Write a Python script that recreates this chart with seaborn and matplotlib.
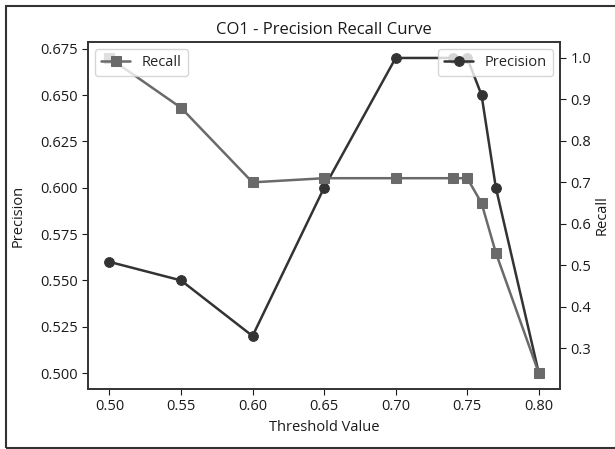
import matplotlib
matplotlib.use("Agg")
import matplotlib.pyplot as plt
import seaborn as sns
import pandas as pd
from matplotlib.patches import Rectangle

thresholds = [0.50, 0.55, 0.60, 0.65, 0.70, 0.74, 0.75, 0.76, 0.77, 0.80]
precision = [0.56, 0.55, 0.52, 0.60, 0.67, 0.67, 0.67, 0.65, 0.60, 0.50]
recall = [1.00, 0.88, 0.70, 0.71, 0.71, 0.71, 0.71, 0.65, 0.53, 0.24]

df = pd.DataFrame({"threshold": thresholds, "precision": precision, "recall": recall})

sns.set_style("ticks")
plt.rcParams['font.family'] = ['Open Sans', 'DejaVu Sans']

fig = plt.figure(figsize=(6.15, 4.49), dpi=100)
ax = fig.add_axes([0.143, 0.134, 0.768, 0.772])
ax2 = ax.twinx()

sns.lineplot(data=df, x="threshold", y="precision", ax=ax, color="#333333",
             marker="o", markersize=7, markeredgecolor="#333333", linewidth=1.8,
             label="Precision")
sns.lineplot(data=df, x="threshold", y="recall", ax=ax2, color="#6a6a6a",
             marker="s", markersize=7, markeredgecolor="#6a6a6a", linewidth=1.8,
             label="Recall")

ax.set_xticks([0.50, 0.55, 0.60, 0.65, 0.70, 0.75, 0.80])
ax.set_xticklabels(["0.50", "0.55", "0.60", "0.65", "0.70", "0.75", "0.80"])
ax.set_yticks([0.500, 0.525, 0.550, 0.575, 0.600, 0.625, 0.650, 0.675])
ax.set_yticklabels([f"{v:.3f}" for v in [0.500, 0.525, 0.550, 0.575, 0.600, 0.625, 0.650, 0.675]])
ax2.set_yticks([0.3, 0.4, 0.5, 0.6, 0.7, 0.8, 0.9, 1.0])
ax2.set_yticklabels(["0.3", "0.4", "0.5", "0.6", "0.7", "0.8", "0.9", "1.0"])

for a in (ax, ax2):
    a.tick_params(labelsize=10.5, colors="#1a1a1a", length=4)
    for s in a.spines.values():
        s.set_color("#333333")
        s.set_linewidth(1.2)
        s.set_visible(True)

ax.set_xlabel("Threshold Value", fontsize=10.5, color="#1a1a1a")
ax.set_ylabel("Precision", fontsize=10.5, color="#1a1a1a", labelpad=10)
ax2.set_ylabel("Recall", fontsize=10.5, color="#1a1a1a", labelpad=2)
ax.set_title("CO1 - Precision Recall Curve", fontsize=12, color="#1a1a1a")

ax.legend(loc="upper right", fontsize=10.5, framealpha=0.8)
ax2.legend(loc="upper left", fontsize=10.5, framealpha=0.8)

fig.patches.append(Rectangle((0.01, 0.003), 1.2, 0.984, transform=fig.transFigure,
                             fill=False, edgecolor="#333333", linewidth=1.5))

fig.savefig("out.png", dpi=100)
